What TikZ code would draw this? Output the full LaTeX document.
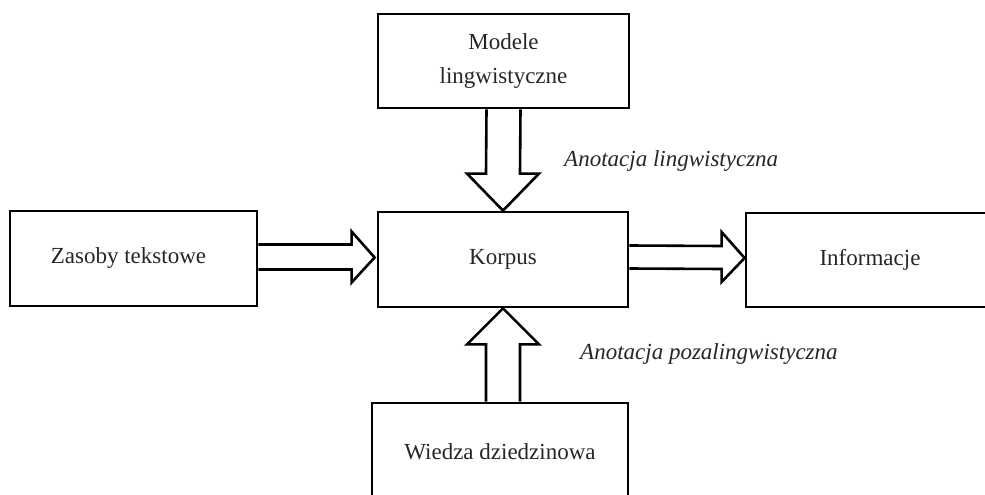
\documentclass[tikz,border=0pt]{standalone}
\usepackage{fontspec}
\setmainfont{Liberation Serif}
\usetikzlibrary{calc}
\begin{document}
\begin{tikzpicture}[x=1pt,y=-1pt,
  box/.style={draw=black, line width=2.8pt, rectangle, inner sep=0pt, text=black!85,
    font=\fontsize{23}{34}\selectfont, align=center},
  barrow/.style={draw=black, line width=2.6pt, fill=white, line join=miter},
  lbl/.style={inner sep=0pt, anchor=west, text=black!85, font=\fontsize{23}{28}\selectfont\itshape}]
\useasboundingbox (0,0) rectangle (985,495);
\clip (0,0) rectangle (985,495);
\node[box, minimum width=251pt, minimum height=94pt] (modele) at (503.5,61) {Modele\\lingwistyczne};
\node[box, minimum width=250pt, minimum height=95pt] (korpus) at (503,259.5) {Korpus};
\node[box, minimum width=247pt, minimum height=95pt] (zasoby) at (133.5,258.5) {Zasoby tekstowe\hspace*{10pt}};
\node[box, minimum width=248pt, minimum height=94pt] (info) at (870,260) {Informacje};
\node[box, minimum width=256pt, minimum height=98pt] (wiedza) at (500,452) {Wiedza dziedzinowa};
% down arrow
\draw[barrow] ($(modele.south)+(-17,0)$) -- ($(korpus.north)+(-17,-37)$) -- ($(korpus.north)+(-36,-37)$)
  -- (korpus.north) -- ($(korpus.north)+(36,-37)$) -- ($(korpus.north)+(17,-37)$)
  -- ($(modele.south)+(17,0)$);
% up arrow
\draw[barrow] ($(wiedza.north)+(-14,0)$) -- ($(korpus.south)+(-17,36)$) -- ($(korpus.south)+(-36,36)$)
  -- (korpus.south) -- ($(korpus.south)+(36,36)$) -- ($(korpus.south)+(17,36)$)
  -- ($(wiedza.north)+(20,0)$);
% left arrow
\draw[barrow] ($(zasoby.east)+(0,-14)$) -- ($(korpus.west)+(-25,-15)$) -- ($(korpus.west)+(-25,-28)$)
  -- ($(korpus.west)+(-2,-2)$) -- ($(korpus.west)+(-25,23)$) -- ($(korpus.west)+(-25,10)$)
  -- ($(zasoby.east)+(0,11)$);
% right arrow
\draw[barrow] ($(korpus.east)+(0,-14)$) -- ($(info.west)+(-23,-14)$) -- ($(info.west)+(-23,-28)$)
  -- ($(info.west)+(0,-2)$) -- ($(info.west)+(-23,22)$) -- ($(info.west)+(-23,9)$)
  -- ($(korpus.east)+(0,9)$);
\node[lbl] (lab1) at (564,161) {Anotacja lingwistyczna};
\node[lbl] (lab2) at (580,354) {Anotacja pozalingwistyczna};
\end{tikzpicture}
\end{document}
